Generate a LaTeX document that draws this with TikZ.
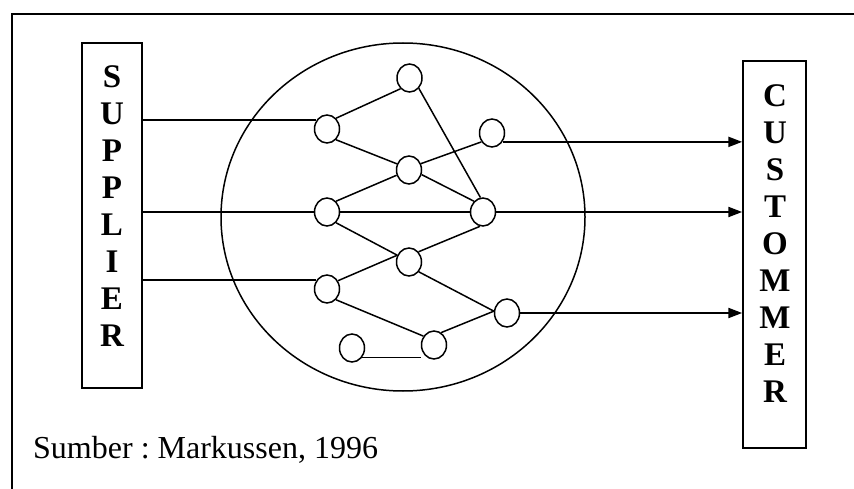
\documentclass[tikz,border=0pt]{standalone}
\usepackage{fontspec}
\setmainfont{Liberation Serif}
\usetikzlibrary{arrows.meta,shapes.geometric}
\frenchspacing
\begin{document}
\begin{tikzpicture}[x=1pt,y=-1pt,
  ln/.style={line width=1.5pt},
  thick out/.style={line width=2.2pt,-{Triangle[length=14pt,width=10pt]}},
  dot/.style={draw,ellipse,line width=1.5pt,minimum width=25pt,minimum height=28pt,inner sep=0pt},
  box/.style={draw,line width=1.5pt,inner sep=0pt},
  letters/.style={align=center,inner sep=0pt,font=\fontsize{33}{37}\selectfont\bfseries},
]
\useasboundingbox (0,0) rectangle (854,489);
% frame
\coordinate (f1) at (12,489);
\coordinate (f2) at (12,14);
\coordinate (f3) at (854,14);
\draw[ln] (f1) -- (f2) -- (f3);
% boxes
\node[box,minimum width=60pt,minimum height=345pt] (sup) at (112,215.5) {};
\node[box,minimum width=63pt,minimum height=387pt] (cust) at (774.5,254.5) {};
\node[letters] (supL) at (112,206) {S\\U\\P\\P\\L\\I\\E\\R};
\node[letters] (custL) at (775,243.5) {C\\U\\S\\T\\O\\M\\M\\E\\R};
% big circle
\node[draw,ellipse,line width=1.5pt,minimum width=364pt,minimum height=348pt,inner sep=0pt] (net) at (403,217) {};
% small nodes
\node[dot] (n1) at (409.5,78) {};
\node[dot] (A) at (327,129) {};
\node[dot] (B) at (492,133) {};
\node[dot] (C) at (409,170) {};
\node[dot] (D) at (327,212) {};
\node[dot] (E) at (483,212) {};
\node[dot] (F) at (409,262) {};
\node[dot] (G) at (327,289) {};
\node[dot] (H) at (507,313) {};
\node[dot] (I) at (434,345) {};
\node[dot] (J) at (352,348) {};
% internal edges
\draw[ln] (A.50) -- (n1.230);
\draw[ln] (n1.-48) -- (E.100);
\draw[ln] (A.-50) -- (C.153);
\draw[ln] (C.28) -- (B.220);
\draw[ln] (D.50) -- (C.203);
\draw[ln] (C.-20) -- (E.130);
\draw[ln] (D.east) -- (E.west);
\draw[ln] (D.-50) -- (F.150);
\draw[ln] (F.47) -- (E.258);
\draw[ln] (G.37) -- (F.150);
\draw[ln] (F.-45) -- (H.172);
\draw[ln] (G.-50) -- (I.140);
\draw[ln] (I.60) -- (H.172);
\draw[ln] (J.-42) -- (J.-42 -| I.west);
% inputs
\draw[ln] (sup.east |- A.140) -- (A.140);
\draw[ln] (sup.east |- D.west) -- (D.west);
\draw[ln] (sup.east |- G.140) -- (G.140);
% outputs
\draw[thick out] (B.-40) -- (cust.west |- B.-40);
\draw[thick out] (E.east) -- (cust.west |- E.east);
\draw[thick out] (H.east) -- (cust.west |- H.east);
% source
\node[anchor=base west,inner sep=0pt,font=\fontsize{32}{37}\selectfont] (src) at (33,458) {Sumber : Markussen, 1996};
\end{tikzpicture}
\end{document}
